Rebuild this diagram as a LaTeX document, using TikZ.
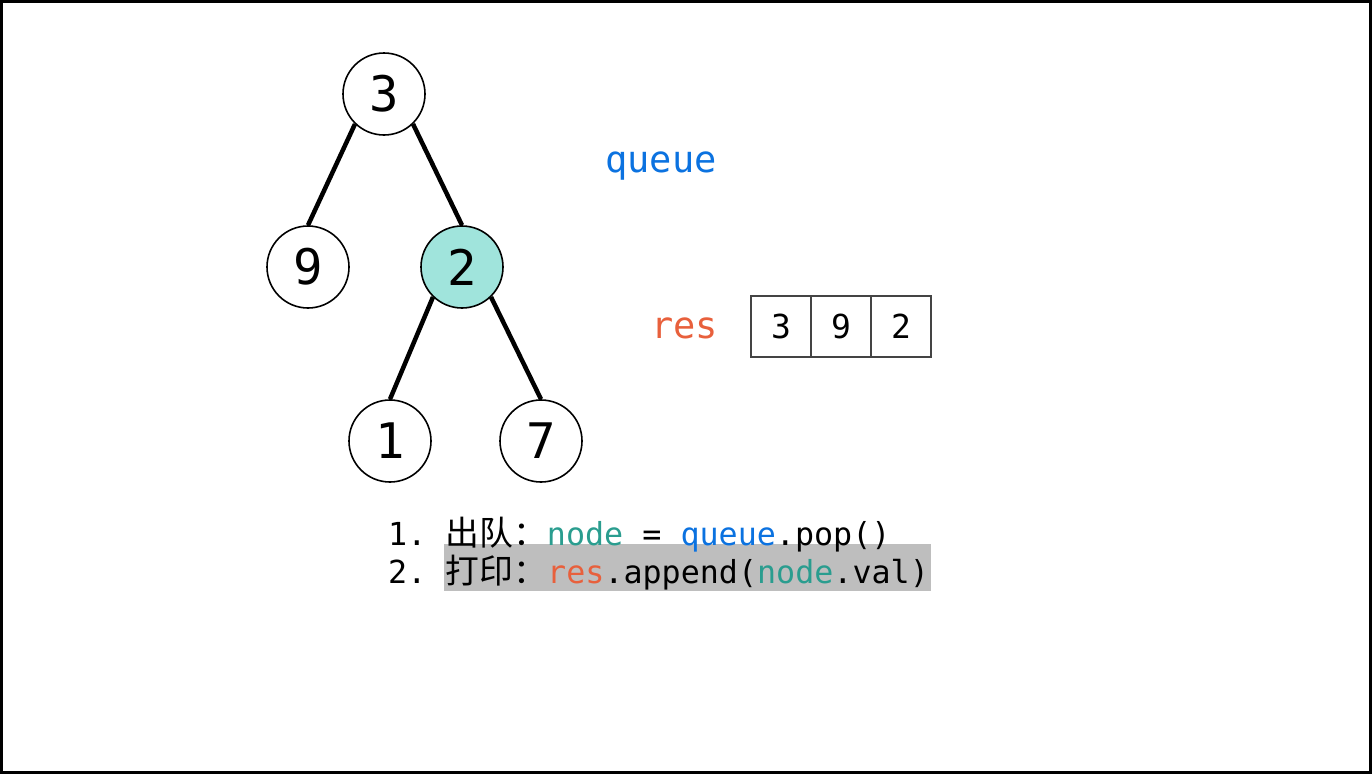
\documentclass[tikz,border=0pt]{standalone}
\usepackage{fontspec}
\setmonofont{DejaVu Sans Mono}
\newfontfamily\cjk[Scale=1.067]{Noto Sans CJK SC}
\newcommand\cj[1]{{\cjk #1}}
\definecolor{qblue}{HTML}{0B72E0}
\definecolor{nteal}{HTML}{2A9D8F}
\definecolor{rred}{HTML}{E8603C}
\definecolor{cyanfill}{HTML}{A0E4DC}
\definecolor{hlgray}{HTML}{BEBEBE}
\definecolor{cellline}{HTML}{444444}
\begin{document}
\begin{tikzpicture}[x=1pt,y=-1pt,
  tnode/.style={circle,draw,line width=1.6pt,minimum size=82pt,inner sep=0pt,fill=white,
    font=\ttfamily\fontsize{49}{49}\selectfont},
  hot/.style={fill=cyanfill},
  edge/.style={line width=4.5pt},
  cell/.style={draw=cellline,line width=1.5pt,minimum width=60pt,minimum height=61pt,inner sep=0pt,
    font=\ttfamily\fontsize{33}{33}\selectfont},
  lbl/.style={anchor=base west,inner sep=0pt,font=\ttfamily\fontsize{37}{37}\selectfont},
  code/.style={anchor=base west,inner sep=0pt,font=\ttfamily\fontsize{31.7}{31.7}\selectfont\frenchspacing}]
\useasboundingbox (0,0) rectangle (1372,774);
\draw[line width=3pt] (1.5,1.5) rectangle (1370.5,772.5);
% tree
\node[tnode] (n3) at (384,94) {3};
\node[tnode] (n9) at (308,267) {9};
\node[tnode,hot] (n2) at (462,267) {2};
\node[tnode] (n1) at (390,441) {1};
\node[tnode] (n7) at (541,441) {7};
\draw[edge] (n3.-134) -- (n9.north);
\draw[edge] (n3.-46) -- (n2.north);
\draw[edge] (n2.-134) -- (n1.north);
\draw[edge] (n2.-46) -- (n7.north);
% labels
\node[lbl,text=qblue] (lq) at (605,172) {queue};
\node[lbl,text=rred] (lr) at (651,338) {res};
% res array
\node[cell] (c1) at (781,326.5) {3};
\node[cell] (c2) at (841,326.5) {9};
\node[cell] (c3) at (901,326.5) {2};
% code
\node[code] (l2n) at (388,583) {2.};
\node[code,fill=hlgray,text height=39pt,text depth=8pt] (l2) at (444,583)
  {\makebox[487pt][l]{\hspace{1.5pt}\cj{打印：}\textcolor{rred}{res}.append(\textcolor{nteal}{node}.val)}};
\node[code] (l1) at (388,545) {1. \cj{出队：}\textcolor{nteal}{node} = \textcolor{qblue}{queue}.pop()};
\end{tikzpicture}
\end{document}
